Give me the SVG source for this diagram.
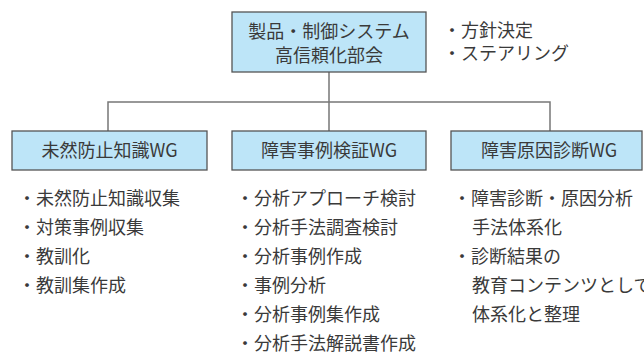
<svg xmlns="http://www.w3.org/2000/svg" width="644" height="354" viewBox="0 0 644 354">
<style>
.box{fill:#bde5f8;stroke:#555;stroke-width:1.3}
.t{font-family:"Noto Sans CJK JP","Noto Sans",sans-serif;font-size:18px;fill:#3a3a3a}
.c{text-anchor:middle}
.conn{fill:none;stroke:#777;stroke-width:1.5}
</style>
<rect width="644" height="354" fill="#fff"/>
<g id="connectors">
<path class="conn" d="M329 72V102M108 131V102H550V131M329 102V131"/>
</g>
<g id="top">
<rect class="box" x="232" y="12" width="194" height="60"/>
<text class="t c" x="329" y="38">製品・制御システム</text>
<text class="t c" x="329" y="62">高信頼化部会</text>
</g>
<g id="top-notes">
<text class="t" x="443" y="37">・方針決定</text>
<text class="t" x="443" y="60">・ステアリング</text>
</g>
<g id="wg1">
<rect class="box" x="12" y="131" width="195" height="39"/>
<text class="t c" x="109.5" y="157">未然防止知識WG</text>
</g>
<g id="wg2">
<rect class="box" x="232" y="131" width="194" height="39"/>
<text class="t c" x="329" y="157">障害事例検証WG</text>
</g>
<g id="wg3">
<rect class="box" x="451" y="131" width="191" height="39"/>
<text class="t c" x="549" y="157">障害原因診断WG</text>
</g>
<g id="list1">
<text class="t" x="18" y="204.5">・未然防止知識収集</text>
<text class="t" x="18" y="233.5">・対策事例収集</text>
<text class="t" x="18" y="262.5">・教訓化</text>
<text class="t" x="18" y="291.5">・教訓集作成</text>
</g>
<g id="list2">
<text class="t" x="236" y="204.5">・分析アプローチ検討</text>
<text class="t" x="236" y="233.5">・分析手法調査検討</text>
<text class="t" x="236" y="262.5">・分析事例作成</text>
<text class="t" x="236" y="291.5">・事例分析</text>
<text class="t" x="236" y="320.5">・分析事例集作成</text>
<text class="t" x="236" y="349.5">・分析手法解説書作成</text>
</g>
<g id="list3">
<text class="t" x="453" y="204.5">・障害診断・原因分析</text>
<text class="t" x="472" y="233.5">手法体系化</text>
<text class="t" x="453" y="262.5">・診断結果の</text>
<text class="t" x="472" y="291.5">教育コンテンツとして</text>
<text class="t" x="472" y="320.5">体系化と整理</text>
</g>
</svg>
